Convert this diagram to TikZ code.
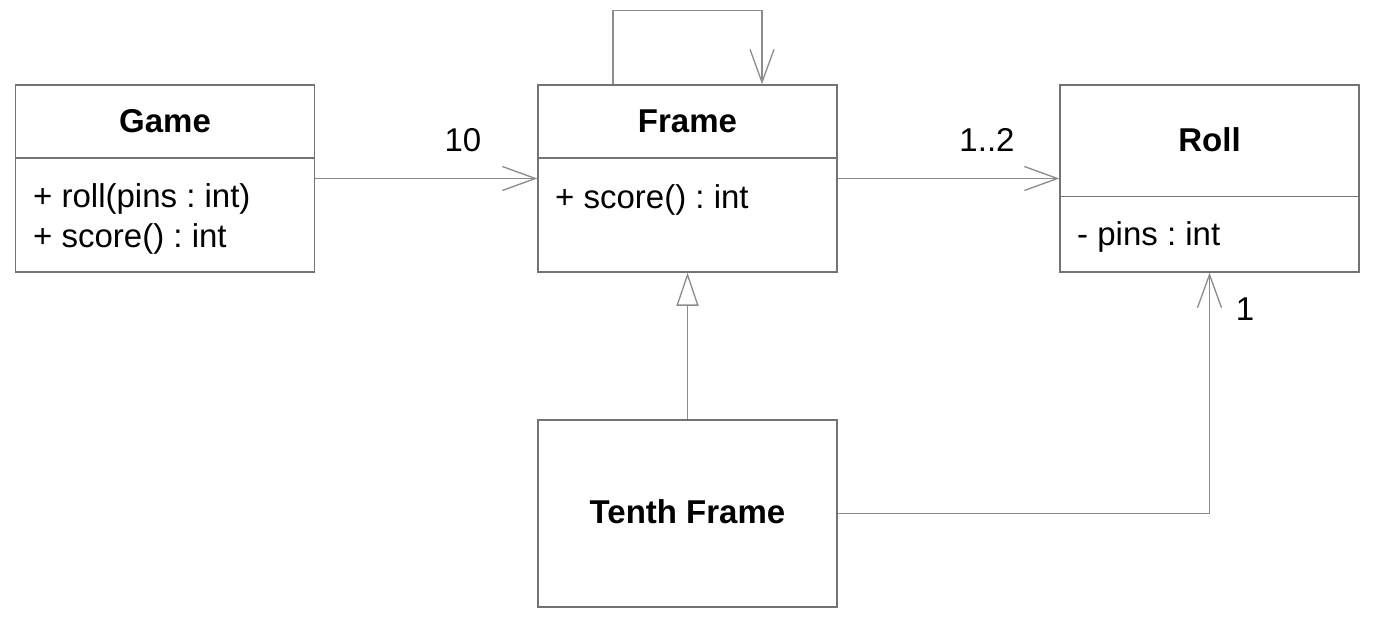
\documentclass[tikz,border=0pt]{standalone}
\usepackage{fontspec}
\setmainfont{Liberation Sans}
\usetikzlibrary{arrows.meta}
\frenchspacing
\begin{document}
\begin{tikzpicture}[x=1pt,y=-1pt,
  conn/.style={draw=black!45, line width=1.3pt},
  box/.style={draw=black!55, line width=1.5pt, fill=white, minimum width=299pt, minimum height=187pt, inner sep=0pt},
  divider/.style={draw=black!55, line width=1.5pt},
  title/.style={font=\fontsize{33}{36}\selectfont\bfseries, anchor=base, inner sep=0pt},
  member/.style={font=\fontsize{33}{36}\selectfont, anchor=base west, inner sep=0pt},
  lbl/.style={font=\fontsize{33}{36}\selectfont, anchor=base, inner sep=0pt},
  openhead/.style={-{Straight Barb[length=33pt,width=24pt,line width=1.3pt]}},
  genhead/.style={-{Triangle[open,length=33pt,width=22pt,line width=1.3pt,fill=white]}}]
\useasboundingbox (0,0) rectangle (1376,623);
\fill[white] (0,0) rectangle (1376,623);

% class boxes
\node[box] (game) at (165,178.5) {};
\node[box] (frame) at (687.5,178.5) {};
\node[box] (roll) at (1209.5,178.5) {};
\node[box] (tenth) at (687.5,513.5) {};

% dividers
\path (game.north west) ++(0,74) coordinate (gd);
\draw[divider] (gd) -- (gd -| game.east);
\path (frame.north west) ++(0,74) coordinate (fd);
\draw[divider] (fd) -- (fd -| frame.east);
\path (roll.north west) ++(0,112) coordinate (rd);
\draw[divider] (rd) -- (rd -| roll.east);

% titles
\node[title] (gameT) at (165,133) {Game};
\node[title] (frameT) at (687.5,133) {Frame};
\node[title] (rollT) at (1209.5,152) {Roll};
\node[title] (tenthT) at (687.5,523) {Tenth Frame};

% members
\node[member] (gm1) at (33,207) {+ roll(pins : int)};
\node[member] (gm2) at (33,247) {+ score() : int};
\node[member] (fm1) at (555,208) {+ score() : int};
\node[member] (rm1) at (1077,245) {- pins : int};

% connectors
\draw[conn, openhead] ([xshift=-74.5pt]frame.north) -- ++(0,-74) -| ([xshift=74.5pt]frame.north);
\draw[conn, openhead] (game.east) -- (frame.west);
\draw[conn, openhead] (frame.east) -- (roll.west);
\draw[conn, genhead] (tenth.north) -- (frame.south);
\draw[conn, openhead] (tenth.east) -| (roll.south);

% multiplicities
\node[lbl] (m10) at (463,152) {10};
\node[lbl] (m12) at (987,152) {1..2};
\node[lbl] (m1) at (1245,320) {1};
\end{tikzpicture}
\end{document}
